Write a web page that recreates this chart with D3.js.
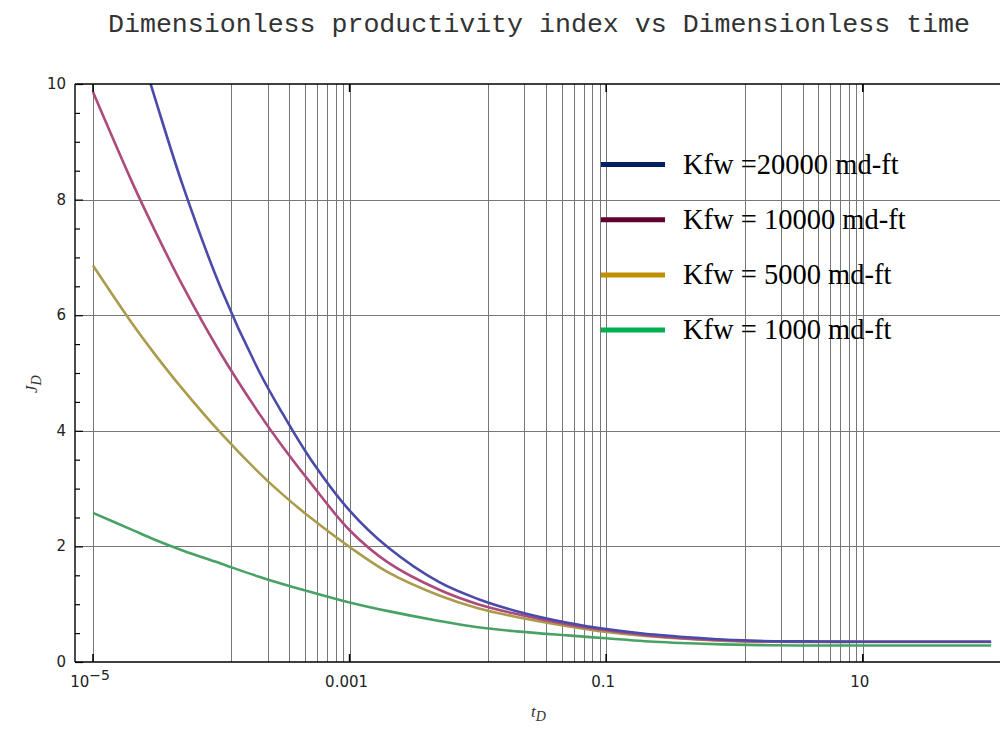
<!DOCTYPE html>
<html>
<head>
<meta charset="utf-8">
<script src="https://cdn.jsdelivr.net/npm/d3@7"></script>
<style>
  body { margin: 0; background: #fff; }
  svg { display: block; }
</style>
</head>
<body>
<div id="chart-area"></div>
<script>
// DATA
const tD = [1e-5, 2e-5, 3e-5, 5e-5, 1e-4, 2e-4, 3e-4, 5e-4, 1e-3, 2e-3, 5e-3,
  1e-2, 2e-2, 5e-2, 0.1, 0.2, 0.5, 1, 2, 5, 10, 100]
const jd20000 = [null, 11.07, 9.80, 8.25, 6.45, 5.0, 4.30, 3.50, 2.62, 1.98, 1.38,
  1.09, 0.88, 0.68, 0.57, 0.49, 0.42, 0.38, 0.36, 0.355, 0.35, 0.35]
const jd10000 = [9.86, 8.32, 7.49, 6.51, 5.32, 4.28, 3.73, 3.09, 2.28, 1.72, 1.25,
  1.0, 0.83, 0.65, 0.55, 0.47, 0.40, 0.37, 0.355, 0.35, 0.35, 0.35]
const jd5000 = [6.86, 5.87, 5.34, 4.72, 3.95, 3.26, 2.90, 2.49, 1.99, 1.55, 1.15,
  0.93, 0.78, 0.62, 0.52, 0.45, 0.39, 0.36, 0.35, 0.345, 0.345, 0.345]
const jd1000 = [2.58, 2.29, 2.12, 1.93, 1.70, 1.47, 1.35, 1.21, 1.03, 0.88, 0.71,
  0.60, 0.53, 0.46, 0.41, 0.36, 0.32, 0.30, 0.29, 0.285, 0.285, 0.285]

const legendLabels = ["Kfw =20000 md-ft", "Kfw = 10000 md-ft", "Kfw = 5000 md-ft", "Kfw = 1000 md-ft"]
const xTickValues = [1e-5, 1e-3, 1e-1, 10]
const xTickLabels = ["10", "0.001", "0.1", "10"]
const yTickValues = [0, 2, 4, 6, 8, 10]
const gridDecades = [1e-4, 1e-2, 1]
const gridMultipliers = [1.2, 2.3, 3.4, 4.5, 5.6, 6.7, 7.8, 8.9, 10]

const WIDTH = 1000
const HEIGHT = 733
const FRAME = { LEFT: 75, TOP: 84, BOTTOM: 662, RIGHT: 1002 }

const svg = d3.select("#chart-area").append("svg")
  .attr("width", WIDTH)
  .attr("height", HEIGHT)

// SCALES
const x = d3.scaleLog()
  .domain([1e-5, 100])
  .range([93, 93 + 7 * 128.3])

const y = d3.scaleLinear()
  .domain([0, 10])
  .range([FRAME.BOTTOM, FRAME.TOP])

// TITLE
svg.append("text")
  .attr("x", 108)
  .attr("y", 32)
  .attr("textLength", 862)
  .attr("lengthAdjust", "spacingAndGlyphs")
  .attr("font-family", "'Courier New', 'Liberation Mono', monospace")
  .attr("font-size", 25)
  .attr("fill", "#333")
  .text("Dimensionless productivity index vs Dimensionless time")

// GRID
const grid = svg.append("g").attr("stroke", "#777").attr("stroke-width", 1)
const vLines = [1e-5]
gridDecades.forEach(d => gridMultipliers.forEach(m => vLines.push(d * m)))
grid.selectAll("line.v").data(vLines).enter().append("line")
  .attr("class", "v")
  .attr("x1", d => Math.round(x(d)) + 0.5).attr("x2", d => Math.round(x(d)) + 0.5)
  .attr("y1", FRAME.TOP).attr("y2", FRAME.BOTTOM)
grid.selectAll("line.h").data([2, 4, 6, 8]).enter().append("line")
  .attr("class", "h")
  .attr("x1", FRAME.LEFT).attr("x2", FRAME.RIGHT)
  .attr("y1", d => Math.round(y(d)) + 0.5).attr("y2", d => Math.round(y(d)) + 0.5)

// CURVES
svg.append("clipPath").attr("id", "clip")
  .append("rect")
  .attr("x", FRAME.LEFT).attr("y", FRAME.TOP)
  .attr("width", FRAME.RIGHT - FRAME.LEFT).attr("height", FRAME.BOTTOM - FRAME.TOP)

const series = [
  { values: jd20000, color: "#4a4aa8" },
  { values: jd10000, color: "#ad4a7c" },
  { values: jd5000, color: "#aa9c4c" },
  { values: jd1000, color: "#48a266" }
]

const line = d3.line()
  .defined(d => d[1] != null)
  .x(d => x(d[0]))
  .y(d => y(d[1]))
  .curve(d3.curveCatmullRom.alpha(0.5))

const curves = svg.append("g").attr("clip-path", "url(#clip)")
curves.selectAll("path").data(series.slice().reverse()).enter().append("path")
  .attr("d", s => line(tD.map((t, i) => [t, s.values[i]])))
  .attr("fill", "none")
  .attr("stroke", s => s.color)
  .attr("stroke-width", 2.6)
  .attr("stroke-linejoin", "round")

// FRAME
const frame = svg.append("g").attr("stroke", "#000").attr("stroke-width", 1.4)
frame.append("line").attr("x1", FRAME.LEFT).attr("x2", FRAME.LEFT)
  .attr("y1", FRAME.TOP).attr("y2", FRAME.BOTTOM)
frame.append("line").attr("x1", FRAME.LEFT).attr("x2", FRAME.RIGHT)
  .attr("y1", FRAME.BOTTOM).attr("y2", FRAME.BOTTOM)
frame.append("line").attr("x1", FRAME.LEFT).attr("x2", FRAME.RIGHT)
  .attr("y1", FRAME.TOP).attr("y2", FRAME.TOP)

// Y AXIS (ticks inward)
const yAxisCall = d3.axisRight(y)
  .tickValues(d3.range(0, 10.01, 0.5))
  .tickSize(5)
  .tickFormat("")
const yAxisGroup = svg.append("g")
  .attr("transform", `translate(${FRAME.LEFT}, 0)`)
  .call(yAxisCall)
yAxisGroup.select(".domain").remove()
yAxisGroup.selectAll(".tick line").attr("stroke", "#000").attr("stroke-width", 1.2)
  .attr("x2", d => d % 2 === 0 ? 8 : 5)

svg.append("g").selectAll("text").data(yTickValues).enter().append("text")
  .attr("x", 66)
  .attr("y", d => y(d) + 5)
  .attr("text-anchor", "end")
  .attr("font-family", "'DejaVu Sans', sans-serif")
  .attr("font-size", 15)
  .attr("fill", "#222")
  .text(d => d)

// X AXIS (major ticks inward, bottom and top)
const xTicks = svg.append("g").attr("stroke", "#000").attr("stroke-width", 1.6)
xTicks.selectAll("line.b").data(xTickValues).enter().append("line")
  .attr("x1", d => x(d)).attr("x2", d => x(d))
  .attr("y1", FRAME.BOTTOM).attr("y2", FRAME.BOTTOM - 8)
xTicks.selectAll("line.t").data(xTickValues).enter().append("line")
  .attr("x1", d => x(d)).attr("x2", d => x(d))
  .attr("y1", FRAME.TOP).attr("y2", FRAME.TOP + 8)

const xLabels = svg.append("g")
  .attr("font-family", "'DejaVu Sans', sans-serif")
  .attr("font-size", 15)
  .attr("fill", "#222")
xLabels.selectAll("text").data(xTickValues).enter().append("text")
  .attr("x", d => x(d) - 3)
  .attr("y", 687)
  .attr("text-anchor", "middle")
  .each(function (d, i) {
    const t = d3.select(this)
    t.append("tspan").text(xTickLabels[i])
    if (i === 0) {
      t.append("tspan").attr("dy", -7).attr("font-size", 14).text("\u22125")
    }
  })

// AXIS TITLES
svg.append("text")
  .attr("x", 531)
  .attr("y", 717)
  .attr("font-family", "'Liberation Serif', serif")
  .attr("font-style", "italic")
  .attr("font-size", 17)
  .attr("fill", "#333")
  .text("t")
  .append("tspan").attr("dy", 4).attr("font-size", 14).text("D")

svg.append("text")
  .attr("transform", "translate(37, 393) rotate(-90)")
  .attr("font-family", "'Liberation Serif', serif")
  .attr("font-style", "italic")
  .attr("font-size", 17)
  .attr("fill", "#333")
  .text("J")
  .append("tspan").attr("dy", 4).attr("font-size", 14).text("D")

// LEGEND
const legendColors = ["#002060", "#600030", "#bf9000", "#00b050"]
const legend = svg.append("g")
const rows = legend.selectAll("g").data(legendLabels).enter().append("g")
  .attr("transform", (d, i) => `translate(601, ${164.5 + i * 55.2})`)
rows.append("line")
  .attr("x1", 0).attr("x2", 64)
  .attr("y1", 0).attr("y2", 0)
  .attr("stroke", (d, i) => legendColors[i])
  .attr("stroke-width", 5)
rows.append("text")
  .attr("x", 82)
  .attr("y", 9)
  .attr("font-family", "'Liberation Serif', 'Times New Roman', serif")
  .attr("font-size", 28.5)
  .attr("fill", "#000")
  .text(d => d)
</script>
</body>
</html>
